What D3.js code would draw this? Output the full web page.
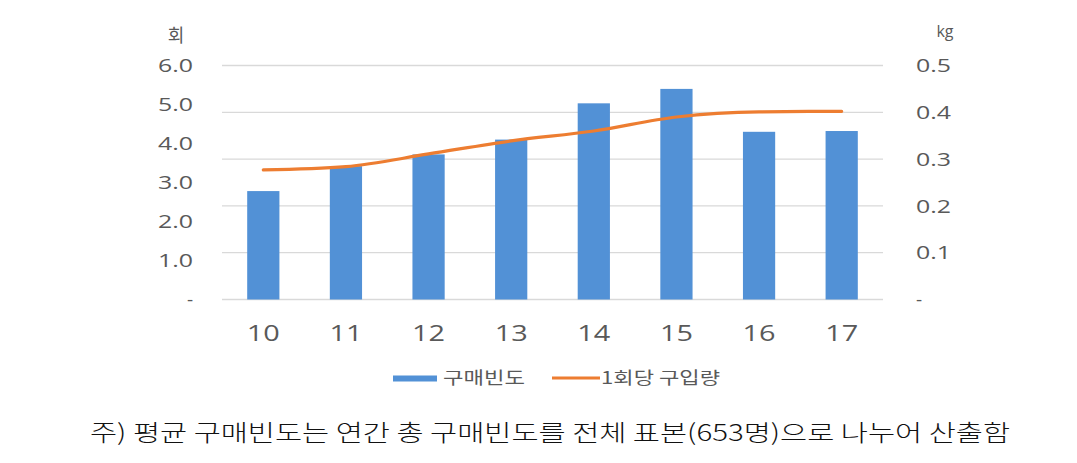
<!DOCTYPE html>
<html><head><meta charset="utf-8">
<script src="https://cdn.jsdelivr.net/npm/d3@7"></script>
<style>body{margin:0;background:#fff;}svg{display:block;}</style>
</head><body>
<svg id="c" width="1077" height="463"></svg>
<script>
const categories = ["10","11","12","13","14","15","16","17"];
const frequency = [2.78, 3.42, 3.72, 4.10, 5.03, 5.40, 4.30, 4.32];
const amountPerPurchase = [0.277, 0.284, 0.311, 0.339, 0.360, 0.390, 0.401, 0.402];
const leftTicks = [0,1,2,3,4,5,6];
const rightTicks = [0,0.1,0.2,0.3,0.4,0.5];
const seriesNames = ["구매빈도","1회당 구입량"];
const footnote = "주) 평균 구매빈도는 연간 총 구매빈도를 전체 표본(653명)으로 나누어 산출함";

const svg = d3.select("#c");
const L = 222, R = 883, T = 65.5, B = 299.5;
const font = "'Noto Sans CJK KR','Noto Sans',sans-serif";
const numFont = "'Open Sans','Noto Sans',sans-serif";
const x = d3.scaleBand().domain(categories).range([L, R]).paddingInner(0.61).paddingOuter(0.305);
const yL = d3.scaleLinear().domain([0,6]).range([B, T]);
const yR = d3.scaleLinear().domain([0,0.5]).range([B, T]);

// gridlines (aligned to right axis ticks)
svg.append("g").selectAll("line").data(rightTicks).join("line")
  .attr("x1", L).attr("x2", R)
  .attr("y1", d => yR(d)).attr("y2", d => yR(d))
  .attr("stroke", "#d9d9d9").attr("stroke-width", 1.3);

// bars
svg.append("g").selectAll("rect").data(frequency).join("rect")
  .attr("x", (d,i) => x(categories[i])).attr("width", x.bandwidth())
  .attr("y", d => yL(d)).attr("height", d => yL(0) - yL(d))
  .attr("fill", "#5291d6");

// line
const line = d3.line().x((d,i) => x(categories[i]) + x.bandwidth()/2).y(d => yR(d)).curve(d3.curveMonotoneX);
svg.append("path").datum(amountPerPurchase).attr("d", line)
  .attr("fill","none").attr("stroke","#ed7d31").attr("stroke-width",3.2).attr("stroke-linecap","round");

const fmt = d => d === 0 ? "-" : d3.format(".1f")(d);
function stretch(sel, w) {
  sel.each(function(d){ if (fmt(d) !== "-") d3.select(this).attr("textLength", w).attr("lengthAdjust","spacingAndGlyphs"); });
}
// left axis labels
svg.append("g").selectAll("text").data(leftTicks).join("text")
  .attr("x", 193).attr("y", d => yL(d)).attr("dy", "0.35em")
  .attr("text-anchor", "end").attr("font-family", numFont).attr("font-size", 19)
  .attr("fill", "#595959").text(fmt).call(stretch, 35);
svg.append("text").attr("x", 176).attr("y", 36).attr("dy","0.35em").attr("text-anchor","middle")
  .attr("font-family", font).attr("font-size", 18).attr("fill","#595959").text("회");

// right axis labels
svg.append("g").selectAll("text").data(rightTicks).join("text")
  .attr("x", 916).attr("y", d => yR(d)).attr("dy", "0.35em")
  .attr("text-anchor", "start").attr("font-family", numFont).attr("font-size", 19)
  .attr("fill", "#595959").text(fmt).call(stretch, 35);
svg.append("text").attr("x", 945).attr("y", 31).attr("dy","0.35em").attr("text-anchor","middle")
  .attr("font-family", numFont).attr("font-size", 16).attr("fill","#595959").text("kg");

// x axis labels
svg.append("g").selectAll("text").data(categories).join("text")
  .attr("x", d => x(d) + x.bandwidth()/2).attr("y", 333).attr("dy","0.35em")
  .attr("text-anchor","middle").attr("font-family", numFont).attr("font-size", 22)
  .attr("fill","#595959").attr("textLength", 33).attr("lengthAdjust","spacingAndGlyphs").text(d => d);

// legend
const lg = svg.append("g");
lg.append("rect").attr("x",393).attr("y",375.5).attr("width",44).attr("height",6).attr("fill","#5291d6");
lg.append("text").attr("x",443).attr("y",378).attr("dy","0.35em").attr("font-family",font).attr("font-size",17)
  .attr("fill","#595959").attr("textLength",82).attr("lengthAdjust","spacingAndGlyphs").text(seriesNames[0]);
lg.append("line").attr("x1",552).attr("x2",600).attr("y1",378).attr("y2",378).attr("stroke","#ed7d31").attr("stroke-width",3);
lg.append("text").attr("x",601).attr("y",378).attr("dy","0.35em").attr("font-family",font).attr("font-size",17)
  .attr("fill","#595959").attr("textLength",119).attr("lengthAdjust","spacingAndGlyphs").text(seriesNames[1]);

// footnote
svg.append("text").attr("x", 90).attr("y", 433).attr("dy","0.35em")
  .attr("font-family", "'Noto Sans CJK KR',sans-serif").attr("font-weight", 300).attr("font-size", 23).attr("fill","#111")
  .attr("textLength", 920).attr("lengthAdjust","spacingAndGlyphs").text(footnote);
</script>
</body></html>
